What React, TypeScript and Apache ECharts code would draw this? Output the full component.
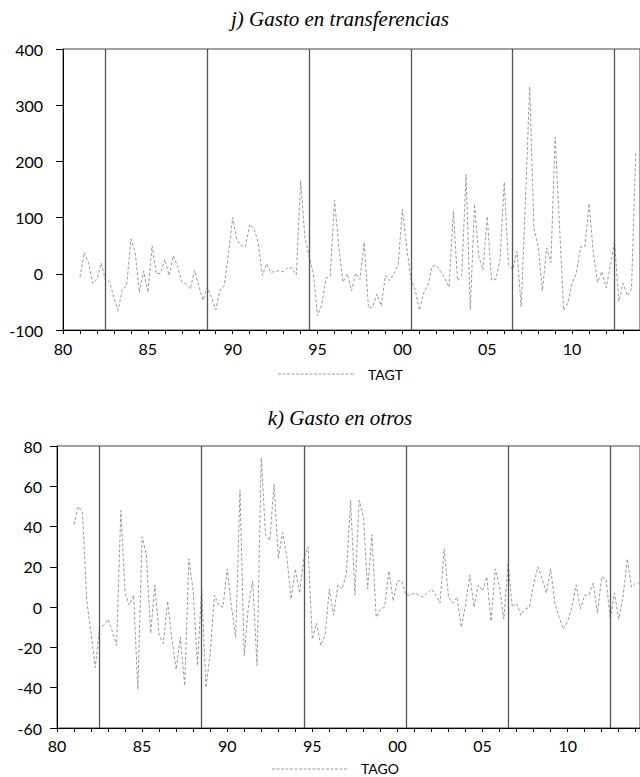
import React, { useEffect, useRef } from "react";
import * as echarts from "echarts";

// Quarterly data starting 1981Q1
const START_YEAR = 1981;
const titleTop = "j) Gasto en transferencias";
const titleBottom = "k) Gasto en otros";
const legendTop = "TAGT";
const legendBottom = "TAGO";
const markYears = [1982.5, 1988.5, 1994.5, 2000.5, 2006.5, 2012.5];

const tagt = [
  -6, 38, 20, -17, -10, 19, -11, -14, -43, -65,
  -27, -21, 62, 39, -33, 5, -33, 50, 0, 1,
  26, -3, 32, 13, -14, -18, -27, 6, -21, -47,
  -24, -42, -64, -29, -21, 35, 100, 60, 50, 48,
  88, 80, 56, -3, 18, 2, 5, 5, 4, 11,
  10, -2, 166, 66, 31, 1, -75, -54, -8, -4,
  131, 48, -15, 0, -30, 1, -10, 56, -61, -59,
  -36, -57, -3, -12, 0, 16, 115, 48, -10, -28,
  -65, -34, -21, 13, 15, 4, -8, -24, 111, -12,
  -2, 177, -64, 124, 31, 7, 102, -11, -10, 25,
  163, 16, 8, 40, -59, 130, 333, 81, 49, -30,
  46, 20, 243, 90, -65, -52, -17, 1, 48, 48,
  125, 37, -15, 4, -25, 13, 57, -49, -17, -39,
  -27, 217,
];

const tago = [
  41, 50, 47, 3, -13, -30, -10, -9, -6, -12,
  -19, 48, 7, 1, 6, -41, 35, 26, -13, 11,
  -14, -18, 3, -16, -31, -15, -39, 24, 8, -29,
  9, -40, -23, 6, 1, 0, 19, 0, -15, 58,
  -24, 1, 13, -29, 74, 36, 33, 61, 24, 37,
  25, 4, 19, 7, 24, 30, -16, -8, -19, -14,
  9, -4, 11, 9, 17, 53, 6, 53, 45, 9,
  36, -5, -1, 0, 18, 3, 13, 13, 6, 6,
  7, 6, 5, 7, 9, 6, 2, 29, 5, 2,
  5, -10, 1, 16, 0, 11, 8, 15, -7, 19,
  10, -6, 22, 0, 2, -4, -1, 0, 11, 20,
  14, 7, 19, 2, -5, -11, -7, 0, 11, -1,
  6, 6, 12, -3, 15, 14, -6, 7, -6, 5,
  24, 10, 12, 12,
];

const TICK_FONT = "Lato, 'Open Sans', sans-serif";
const SERIES_COLOR = "#9a9a9a";

function yearLabel(v: number): string {
  if (Math.abs(v - Math.round(v)) > 1e-6) return "";
  const y = Math.round(v);
  if (y % 5 !== 0) return "";
  return String(y % 100).padStart(2, "0");
}

function makeXAxis(gridIndex: number, max: number, margin: number) {
  return {
    type: "value",
    gridIndex,
    min: 1980,
    max,
    interval: 1,
    axisLine: { show: true, onZero: false, lineStyle: { color: "#000", width: 1 } },
    axisTick: { show: true, length: 4, lineStyle: { color: "#000", width: 1 } },
    axisLabel: {
      formatter: yearLabel,
      fontFamily: TICK_FONT,
      fontSize: 16,
      color: "#000",
      margin,
      showMaxLabel: false,
    },
    splitLine: { show: false },
  };
}

function makeYAxis(gridIndex: number, min: number, max: number, interval: number, margin: number) {
  return {
    type: "value",
    gridIndex,
    min,
    max,
    interval,
    axisLine: { show: true, onZero: false, lineStyle: { color: "#000", width: 1 } },
    axisTick: { show: true, length: 7, lineStyle: { color: "#000", width: 1 } },
    axisLabel: {
      fontFamily: TICK_FONT,
      fontSize: 16,
      color: "#000",
      margin,
    },
    splitLine: { show: false },
  };
}

function markLineFor() {
  return {
    silent: true,
    symbol: ["none", "none"],
    label: { show: false },
    lineStyle: { color: "#555", width: 1.3, type: "solid" },
    data: markYears.map((x) => ({ xAxis: x })),
  };
}

export default function App() {
  const ref = useRef<HTMLDivElement>(null);

  useEffect(() => {
    if (!ref.current) return;
    const chart = echarts.init(ref.current, undefined, { renderer: "svg" });

    const topData = tagt.map((v, i) => [START_YEAR + i / 4, v]);
    const bottomData = tago.map((v, i) => [START_YEAR + i / 4, v]);

    const option = {
      animation: false,
      backgroundColor: "#fff",
      grid: [
        {
          left: 63,
          top: 49,
          width: 578,
          height: 281,
          show: true,
          borderColor: "#444",
          borderWidth: 1,
          backgroundColor: "transparent",
        },
        {
          left: 57,
          top: 446,
          width: 585,
          height: 282,
          show: true,
          borderColor: "#444",
          borderWidth: 1,
          backgroundColor: "transparent",
        },
      ],
      xAxis: [makeXAxis(0, 2014, 10), makeXAxis(1, 2014.25, 9)],
      yAxis: [makeYAxis(0, -100, 400, 100, 20), makeYAxis(1, -60, 80, 20, 15)],
      series: [
        {
          name: legendTop,
          type: "line",
          xAxisIndex: 0,
          yAxisIndex: 0,
          data: topData,
          symbol: "none",
          clip: true,
          lineStyle: { color: SERIES_COLOR, width: 1, type: [3, 2] },
          markLine: markLineFor(),
        },
        {
          name: legendBottom,
          type: "line",
          xAxisIndex: 1,
          yAxisIndex: 1,
          data: bottomData,
          symbol: "none",
          clip: true,
          lineStyle: { color: SERIES_COLOR, width: 1, type: [3, 2] },
          markLine: markLineFor(),
        },
      ],
      graphic: [
        {
          type: "text",
          x: 340,
          y: 19,
          style: {
            text: titleTop,
            fontFamily: "'Liberation Serif', serif",
            fontStyle: "italic",
            fontSize: 21,
            fill: "#000",
            textAlign: "center",
            textVerticalAlign: "middle",
          },
        },
        {
          type: "text",
          x: 340,
          y: 418,
          style: {
            text: titleBottom,
            fontFamily: "'Liberation Serif', serif",
            fontStyle: "italic",
            fontSize: 21,
            fill: "#000",
            textAlign: "center",
            textVerticalAlign: "middle",
          },
        },
        {
          type: "line",
          shape: { x1: 278, y1: 374, x2: 355, y2: 374 },
          style: { stroke: SERIES_COLOR, lineWidth: 1, lineDash: [3, 1.5] },
        },
        {
          type: "text",
          x: 368,
          y: 374,
          style: {
            text: legendTop,
            fontFamily: TICK_FONT,
            fontSize: 14,
            fill: "#000",
            textAlign: "left",
            textVerticalAlign: "middle",
          },
        },
        {
          type: "line",
          shape: { x1: 272, y1: 769, x2: 347, y2: 769 },
          style: { stroke: SERIES_COLOR, lineWidth: 1, lineDash: [3, 1.5] },
        },
        {
          type: "text",
          x: 361,
          y: 768,
          style: {
            text: legendBottom,
            fontFamily: TICK_FONT,
            fontSize: 14,
            fill: "#000",
            textAlign: "left",
            textVerticalAlign: "middle",
          },
        },
      ],
    };

    chart.setOption(option as any);
    return () => chart.dispose();
  }, []);

  return (
    <div
      ref={ref}
      style={{ position: "absolute", left: 0, top: 0, width: 640, height: 777 }}
    />
  );
}
